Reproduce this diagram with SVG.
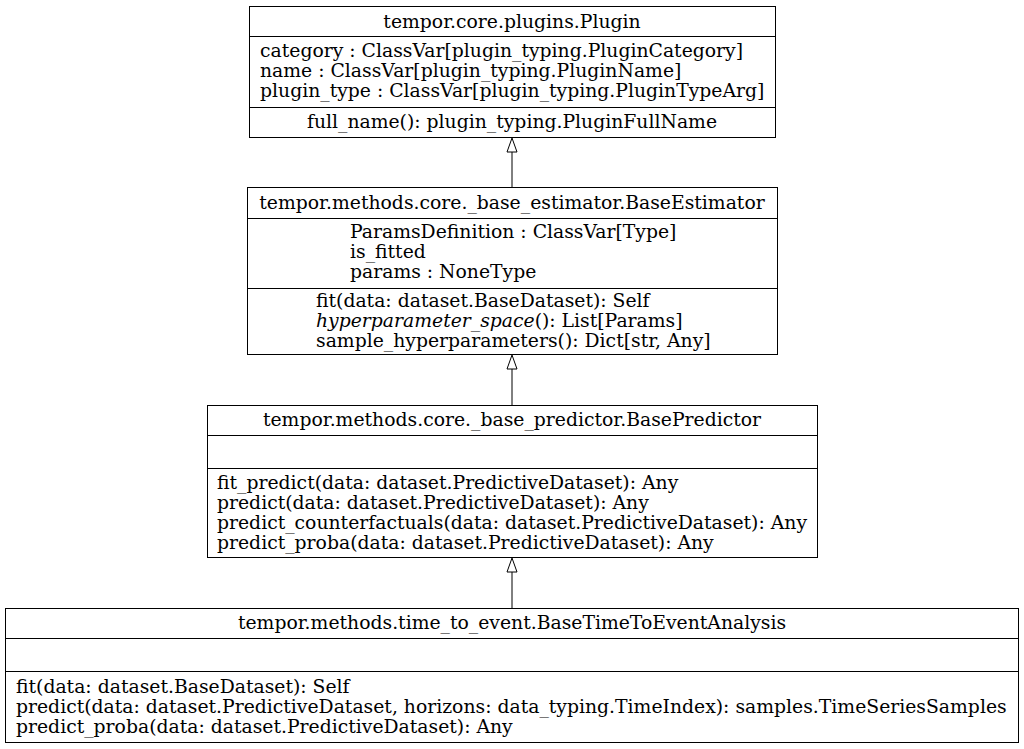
<svg xmlns="http://www.w3.org/2000/svg" width="1024" height="749" viewBox="0 0 1024 749">
<style>
.box{fill:#fff;stroke:#000;stroke-width:1}
.sep{stroke:#000;stroke-width:1}
text{font-family:"DejaVu Serif",serif;font-size:18.8px;fill:#000}
.c{text-anchor:middle}
.edge{stroke:#000;stroke-width:1;fill:none}
.head{fill:#fff;stroke:#000;stroke-width:1}
</style>
<rect width="1024" height="749" fill="#fff"/>
<g id="connectors">
<line class="edge" x1="512" y1="152" x2="512" y2="187"/>
<polygon class="head" points="512,138 507,152 517,152"/>
<line class="edge" x1="512" y1="369" x2="512" y2="405"/>
<polygon class="head" points="512,355 507,369 517,369"/>
<line class="edge" x1="512" y1="572" x2="512" y2="608"/>
<polygon class="head" points="512,558 507,572 517,572"/>
</g>
<g id="Plugin">
<rect class="box" x="249.5" y="6.5" width="526" height="131"/>
<line class="sep" x1="249.5" y1="36.5" x2="775.5" y2="36.5"/>
<line class="sep" x1="249.5" y1="107.5" x2="775.5" y2="107.5"/>
<text class="c" x="512" y="28">tempor.core.plugins.Plugin</text>
<text x="260" y="57">category : ClassVar[plugin_typing.PluginCategory]</text>
<text x="260" y="77">name : ClassVar[plugin_typing.PluginName]</text>
<text x="260" y="97">plugin_type : ClassVar[plugin_typing.PluginTypeArg]</text>
<text class="c" x="512" y="128">full_name(): plugin_typing.PluginFullName</text>
</g>
<g id="BaseEstimator">
<rect class="box" x="247.5" y="187.5" width="530" height="167"/>
<line class="sep" x1="247.5" y1="218.5" x2="777.5" y2="218.5"/>
<line class="sep" x1="247.5" y1="288.5" x2="777.5" y2="288.5"/>
<text class="c" x="512" y="209">tempor.methods.core._base_estimator.BaseEstimator</text>
<text x="350" y="238">ParamsDefinition : ClassVar[Type]</text>
<text x="350" y="258">is_fitted</text>
<text x="350" y="278">params : NoneType</text>
<text x="316" y="307">fit(data: dataset.BaseDataset): Self</text>
<text x="316" y="327"><tspan font-style="italic">hyperparameter_space</tspan>(): List[Params]</text>
<text x="316" y="347">sample_hyperparameters(): Dict[str, Any]</text>
</g>
<g id="BasePredictor">
<rect class="box" x="207.5" y="405.5" width="610" height="152"/>
<line class="sep" x1="207.5" y1="435.5" x2="817.5" y2="435.5"/>
<line class="sep" x1="207.5" y1="468.5" x2="817.5" y2="468.5"/>
<text class="c" x="512" y="426">tempor.methods.core._base_predictor.BasePredictor</text>
<text x="217" y="489">fit_predict(data: dataset.PredictiveDataset): Any</text>
<text x="217" y="509">predict(data: dataset.PredictiveDataset): Any</text>
<text x="217" y="529">predict_counterfactuals(data: dataset.PredictiveDataset): Any</text>
<text x="217" y="549">predict_proba(data: dataset.PredictiveDataset): Any</text>
</g>
<g id="BaseTimeToEventAnalysis">
<rect class="box" x="5.5" y="608.5" width="1013" height="134"/>
<line class="sep" x1="5.5" y1="638.5" x2="1018.5" y2="638.5"/>
<line class="sep" x1="5.5" y1="671.5" x2="1018.5" y2="671.5"/>
<text class="c" x="512" y="629">tempor.methods.time_to_event.BaseTimeToEventAnalysis</text>
<text x="16" y="693">fit(data: dataset.BaseDataset): Self</text>
<text x="16" y="713">predict(data: dataset.PredictiveDataset, horizons: data_typing.TimeIndex): samples.TimeSeriesSamples</text>
<text x="16" y="733">predict_proba(data: dataset.PredictiveDataset): Any</text>
</g>
</svg>
